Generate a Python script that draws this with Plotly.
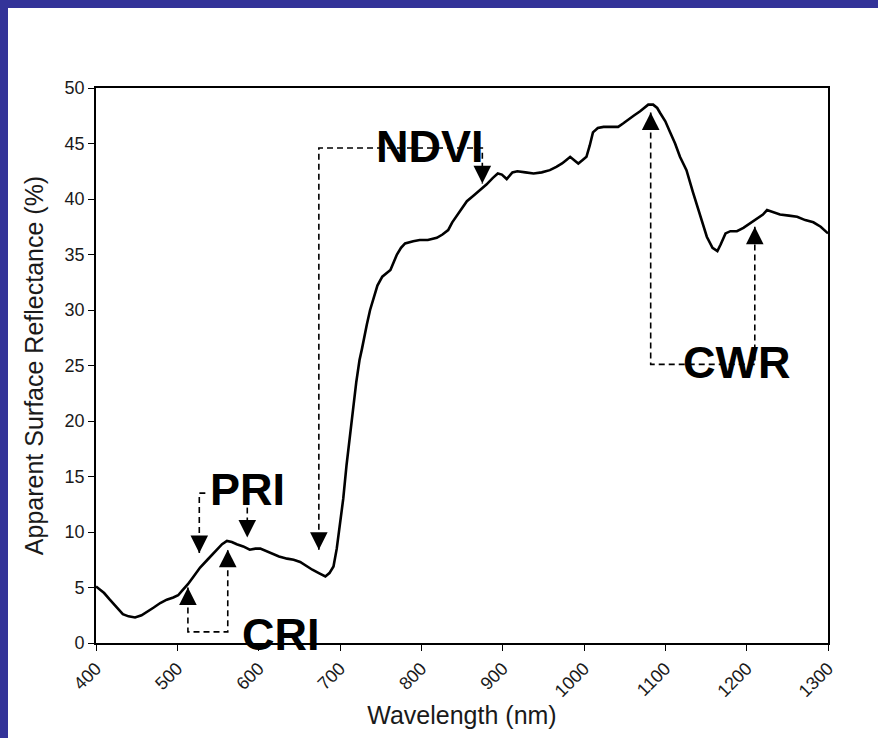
import plotly.graph_objects as go

# ---- spectrum data ----
wavelength = [400,410,417,425,433,440,448,456,463,471,479,487,495,501,507,513,520,528,537,543,
              549,555,561,567,573,581,589,596,602,608,614,625,635,643,651,659,666,674,682,687,
              692,696,700,704,708,712,716,720,724,727,730,733,737,741,746,752,757,762,766,770,
              775,780,790,798,808,819,826,833,838,844,850,856,864,872,880,888,894,899,905,912,
              918,928,938,948,958,966,973,978,983,988,993,998,1003,1007,1011,1017,1024,1033,1042,1048,
              1053,1061,1069,1075,1079,1085,1090,1094,1100,1106,1112,1118,1126,1134,1142,1151,1158,1164,1168,1174,
              1180,1188,1196,1204,1213,1220,1225,1232,1241,1252,1262,1272,1282,1291,1300]
reflectance = [5.1,4.5,3.9,3.2,2.6,2.4,2.3,2.5,2.8,3.2,3.6,3.9,4.1,4.3,4.8,5.3,6.0,6.8,7.5,8.0,
               8.5,8.9,9.2,9.1,8.9,8.7,8.4,8.5,8.5,8.3,8.1,7.8,7.6,7.5,7.3,6.9,6.6,6.3,6.0,6.3,
               6.9,8.5,10.8,13.0,16.0,18.8,21.0,23.5,25.5,26.5,27.8,28.7,30.0,31.0,32.2,33.0,33.3,33.6,34.3,35.0,
               35.6,36.0,36.2,36.3,36.3,36.5,36.8,37.2,37.9,38.5,39.2,39.8,40.3,40.8,41.3,41.9,42.3,42.2,41.8,42.4,
               42.5,42.4,42.3,42.4,42.6,42.9,43.2,43.5,43.8,43.5,43.2,43.5,43.8,44.8,46.0,46.4,46.5,46.5,46.5,46.8,
               47.1,47.5,47.9,48.3,48.5,48.5,48.2,47.7,47.0,46.0,45.0,43.8,42.6,40.6,38.8,36.6,35.6,35.3,35.9,36.9,
               37.1,37.1,37.4,37.8,38.2,38.6,39.0,38.8,38.6,38.5,38.4,38.1,37.9,37.5,36.9]

x_ticks = [400, 500, 600, 700, 800, 900, 1000, 1100, 1200, 1300]
y_ticks = [0, 5, 10, 15, 20, 25, 30, 35, 40, 45, 50]

# ---- index bracket annotations (wavelength, reflectance) ----
ndvi_path_x = [674, 674, 875, 875]
ndvi_path_y = [8.4, 44.6, 44.6, 41.4]
pri_left_x = [527, 527, 536]
pri_left_y = [8.1, 13.5, 13.5]
pri_right_x = [586, 586]
pri_right_y = [12.2, 9.5]
cri_path_x = [513, 513, 562, 562]
cri_path_y = [5.0, 1.0, 1.0, 8.4]
cwr_path_x = [1082, 1082, 1210, 1210]
cwr_path_y = [47.8, 25.1, 25.1, 37.5]

# arrow tips: (x, y, direction)
arrow_x = [674, 875, 527, 586, 513, 562, 1082, 1210]
arrow_y = [8.4, 41.4, 8.1, 9.5, 5.0, 8.4, 47.8, 37.5]
arrow_dir = ["down", "down", "down", "down", "up", "up", "up", "up"]

label_text = ["NDVI", "PRI", "CRI", "CWR"]
label_x = [811, 586, 627, 1187]
label_y = [44.7, 13.8, 0.8, 25.3]

fig = go.Figure()

dash_style = dict(color="black", width=1.6, dash="6px,4px")
for px, py in [(ndvi_path_x, ndvi_path_y), (pri_left_x, pri_left_y), (pri_right_x, pri_right_y),
               (cri_path_x, cri_path_y), (cwr_path_x, cwr_path_y)]:
    fig.add_trace(go.Scatter(x=px, y=py, mode="lines", line=dash_style,
                             hoverinfo="skip", showlegend=False, cliponaxis=False))

fig.add_trace(go.Scatter(x=wavelength, y=reflectance, mode="lines",
                         line=dict(color="black", width=2.6), showlegend=False))

for ax_, ay_, d in zip(arrow_x, arrow_y, arrow_dir):
    fig.add_annotation(x=ax_, y=ay_, ax=0, ay=(-14 if d == "down" else 14),
                       text="", showarrow=True, arrowhead=2, arrowsize=2.2,
                       arrowwidth=1.6, arrowcolor="black", standoff=0)

for t, lx, ly in zip(label_text, label_x, label_y):
    fig.add_annotation(x=lx, y=ly, text="<b>%s</b>" % t, showarrow=False,
                       font=dict(family="Liberation Sans, Arial", size=45, color="black"),
                       xanchor="center", yanchor="middle")

# blue slide border (top and left)
fig.add_shape(type="rect", xref="paper", yref="paper",
              x0=-96/732, x1=-88/732, y0=-95/555, y1=643/555 + 1,
              fillcolor="#333399", line_width=0, layer="below")
fig.add_shape(type="rect", xref="paper", yref="paper",
              x0=-96/732, x1=1 + 50/732, y0=(643 - 8)/555, y1=643/555 + 1,
              fillcolor="#333399", line_width=0, layer="below")

tick_font = dict(family="Liberation Sans, Arial", size=18, color="#1a1a1a")
title_font = dict(family="Liberation Sans, Arial", size=25, color="#1a1a1a")
fig.update_layout(
    width=878, height=738,
    margin=dict(l=96, r=50, t=88, b=95),
    paper_bgcolor="white", plot_bgcolor="white",
    xaxis=dict(range=[400, 1300], tickvals=x_ticks, ticktext=[str(v) for v in x_ticks],
               tickangle=-45, ticks="outside", ticklen=6, tickwidth=1.3, tickcolor="black",
               showline=True, linecolor="black", linewidth=1.8, mirror=True,
               showgrid=False, zeroline=False, tickfont=tick_font,
               title=dict(text="Wavelength (nm)", font=title_font, standoff=6)),
    yaxis=dict(range=[0, 50], tickvals=y_ticks, ticks="outside", ticklen=6, tickwidth=1.3,
               tickcolor="black", showline=True, linecolor="black", linewidth=1.8, mirror=True,
               showgrid=False, zeroline=False, tickfont=tick_font,
               title=dict(text="Apparent Surface Reflectance (%)", font=title_font, standoff=14)),
)

fig.write_html("out.html")
